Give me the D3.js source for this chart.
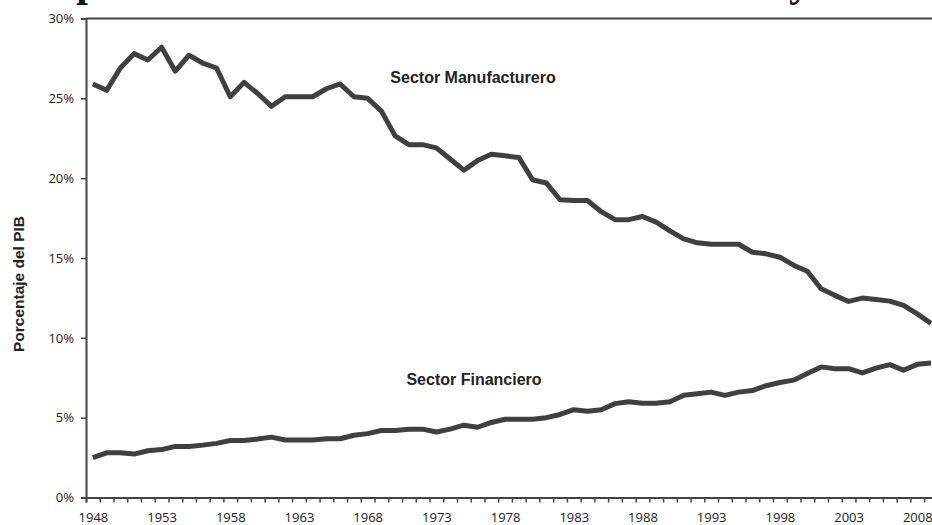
<!DOCTYPE html>
<html>
<head>
<meta charset="utf-8">
<script src="https://cdn.jsdelivr.net/npm/d3@7"></script>
<style>
  body { margin: 0; background: #fff; }
  svg { display: block; }
  .tick text { font-family: "Open Sans", sans-serif; font-size: 13px; fill: #222; }
</style>
</head>
<body>
<div id="chart"></div>
<script>
// years 1948..2009, values in % of GDP
let years = d3.range(1948, 2010);
let manufacturero = [
  25.9, 25.5, 26.9, 27.8, 27.4, 28.2, 26.7, 27.7, 27.2, 26.9,
  25.1, 26.0, 25.3, 24.5, 25.1, 25.1, 25.1, 25.6, 25.9, 25.1,
  25.0, 24.2, 22.65, 22.1, 22.1, 21.9, 21.2, 20.5, 21.1, 21.5,
  21.4, 21.3, 19.9, 19.7, 18.65, 18.6, 18.6, 17.9, 17.4, 17.4,
  17.6, 17.25, 16.7, 16.2, 15.95, 15.86, 15.86, 15.86, 15.36, 15.26,
  15.05, 14.55, 14.17, 13.07, 12.66, 12.28, 12.49, 12.4, 12.3, 12.03,
  11.5, 10.9
];
let financiero = [
  2.5, 2.8, 2.8, 2.72, 2.93, 3.0, 3.2, 3.2, 3.28, 3.39,
  3.57, 3.57, 3.66, 3.78, 3.6, 3.6, 3.6, 3.68, 3.68, 3.9,
  4.0, 4.2, 4.2, 4.28, 4.28, 4.1, 4.28, 4.53, 4.4, 4.7,
  4.9, 4.9, 4.9, 5.0, 5.2, 5.5, 5.4, 5.5, 5.88, 6.0,
  5.9, 5.9, 6.0, 6.4, 6.5, 6.6, 6.4, 6.6, 6.7, 7.0,
  7.2, 7.35, 7.76, 8.18, 8.07, 8.07, 7.8, 8.1, 8.32, 7.97,
  8.34, 8.42
];
let yTicks = [0, 5, 10, 15, 20, 25, 30];
let yearLabels = [1948, 1953, 1958, 1963, 1968, 1973, 1978, 1983, 1988, 1993, 1998, 2003, 2008];

let width = 932, height = 525;
let margin = {top: 18.5, left: 86, bottom: 27.5};

let svg = d3.select("#chart").append("svg")
  .attr("width", width)
  .attr("height", height);

// title, mostly cut off at the top of the picture
svg.append("text")
  .attr("x", -10)
  .attr("y", -4)
  .style("font-family", "'Liberation Serif', serif")
  .style("font-weight", "bold")
  .style("font-size", "42px")
  .style("fill", "#111")
  .text("Comparación de los sectores manufacturero y financiero");

// each year gets a slot; ticks sit between slots
let x = d3.scaleLinear()
  .domain([1947.5, 2009.5])
  .range([margin.left, margin.left + 62 * 13.74]);

let y = d3.scaleLinear()
  .domain([0, 30])
  .range([height - margin.bottom, margin.top]);

// top frame line
svg.append("line")
  .attr("x1", x(1947.5)).attr("x2", width)
  .attr("y1", y(30)).attr("y2", y(30))
  .style("stroke", "#444").style("stroke-width", 2);

// x axis: year ticks
let xAxis = svg.append("g")
  .attr("transform", "translate(0," + y(0) + ")")
  .call(d3.axisBottom(x)
    .tickValues(d3.range(1947.5, 2010, 1))
    .tickSize(5)
    .tickFormat(""));
xAxis.select(".domain").style("stroke", "#444").style("stroke-width", 2);
xAxis.selectAll(".tick line").style("stroke", "#444").style("stroke-width", 1.5);

let xLabels = svg.append("g")
  .attr("transform", "translate(0," + y(0) + ")")
  .call(d3.axisBottom(x)
    .tickValues(yearLabels)
    .tickSize(0)
    .tickPadding(15)
    .tickFormat(d3.format("d")));
xLabels.select(".domain").remove();

// y axis
let yAxis = svg.append("g")
  .attr("transform", "translate(" + margin.left + ",0)")
  .call(d3.axisLeft(y)
    .tickValues(yTicks)
    .tickSize(5)
    .tickPadding(7)
    .tickFormat(d => d + "%"));
yAxis.select(".domain").style("stroke", "#444").style("stroke-width", 2);
yAxis.selectAll(".tick line").style("stroke", "#444").style("stroke-width", 1.5);

svg.append("text")
  .attr("transform", "translate(24,284) rotate(-90)")
  .attr("text-anchor", "middle")
  .style("font-family", "'Liberation Sans', Arial, sans-serif")
  .style("font-weight", "bold")
  .style("font-size", "15.5px")
  .style("fill", "#222")
  .text("Porcentaje del PIB");

// lines
let line = d3.line()
  .x((d, i) => x(years[i]))
  .y(d => y(d));

[manufacturero, financiero].forEach(series => {
  svg.append("path")
    .datum(series)
    .attr("d", line)
    .style("fill", "none")
    .style("stroke", "#404040")
    .style("stroke-width", 5)
    .style("stroke-linejoin", "round");
});

// labels on the lines
let labels = [
  {text: "Sector Manufacturero", year: 1975.67, value: 25.97},
  {text: "Sector Financiero", year: 1975.74, value: 7.06}
];
svg.selectAll(".serie-label")
  .data(labels)
  .enter().append("text")
  .attr("class", "serie-label")
  .attr("x", d => x(d.year))
  .attr("y", d => y(d.value))
  .attr("text-anchor", "middle")
  .style("font-family", "'Liberation Sans', Arial, sans-serif")
  .style("font-weight", "bold")
  .style("font-size", "16px")
  .style("fill", "#222")
  .text(d => d.text);
</script>
</body>
</html>
